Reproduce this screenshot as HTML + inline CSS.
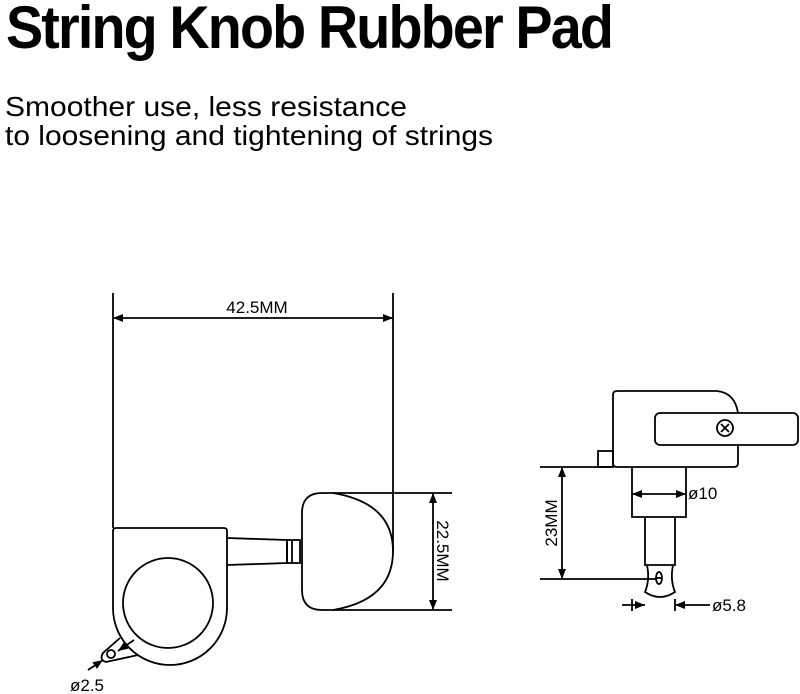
<!DOCTYPE html>
<html><head><meta charset="utf-8"><style>
html,body{margin:0;padding:0;background:#fff;width:800px;height:694px;overflow:hidden}
svg{display:block}
text{font-family:"Liberation Sans",Arial,sans-serif;fill:#000}
</style></head><body>
<svg width="800" height="694" viewBox="0 0 800 694" xmlns="http://www.w3.org/2000/svg">
<defs>
<marker id="a" viewBox="0 0 10 10" refX="10" refY="5" markerWidth="11" markerHeight="10" markerUnits="userSpaceOnUse" orient="auto-start-reverse"><path d="M0,1 L10,5 L0,9 z" fill="#000"/></marker>
</defs>
<text x="6" y="48" font-size="60" font-weight="bold" textLength="606" lengthAdjust="spacingAndGlyphs" letter-spacing="-2">String Knob Rubber Pad</text>
<text x="5" y="116" font-size="28" textLength="402" lengthAdjust="spacingAndGlyphs">Smoother use, less resistance</text>
<text x="5" y="145" font-size="28" textLength="488" lengthAdjust="spacingAndGlyphs">to loosening and tightening of strings</text>

<g fill="none" stroke="#000" stroke-width="1.8">
<line x1="113" y1="293" x2="113" y2="528"/>
<line x1="393" y1="293" x2="393" y2="551"/>
<line x1="113" y1="318" x2="393" y2="318" marker-start="url(#a)" marker-end="url(#a)"/>
<path d="M116,528 L224,528 Q227,528 227,531 L227,608 A57,57 0 0 1 113,608 L113,531 Q113,528 116,528 Z"/>
<circle cx="168" cy="603" r="45"/>
<path d="M227,538 L287,540 L287,563 L227,565"/>
<rect x="287" y="540" width="13" height="23"/>
<line x1="292" y1="540" x2="292" y2="563"/>
<path d="M333,493 L322,493 Q302,493 302,513 L302,590 Q302,610 322,610 L333,610 Q393,600 393,551 Q393,503 333,493 Z"/>
<line x1="333" y1="493" x2="452" y2="493"/>
<line x1="333" y1="610" x2="452" y2="610"/>
<line x1="433" y1="493" x2="433" y2="610" marker-start="url(#a)" marker-end="url(#a)"/>
<path d="M120,638 L103,653 Q99,660 106,662 L138,655"/>
<circle cx="111" cy="654" r="4"/>
<line x1="134" y1="640" x2="118" y2="651" marker-end="url(#a)"/>
<line x1="88" y1="670" x2="103" y2="660" marker-end="url(#a)"/>
<path d="M617,391 L717,391 Q735,393 738,413 M738,445 L738,463 Q738,467 734,467 L617,467 Q613,467 613,463 L613,395 Q613,391 617,391"/>
<rect x="655" y="413" width="143" height="32" rx="5"/>
<circle cx="725" cy="428" r="8"/>
<path d="M721,424 L729,432 M729,424 L721,432"/>
<rect x="598" y="451" width="15" height="16"/>
<line x1="540" y1="467" x2="613" y2="467"/>
<path d="M632,467 L632,517 L686,517 L686,467"/>
<path d="M645,517 L645,565 L675,565 L675,517"/>
<path d="M647,565 Q650,580 645,592 Q660,602 675,592 Q670,580 673,565"/>
<ellipse cx="659" cy="578" rx="3" ry="6"/>
<line x1="656" y1="578" x2="662" y2="578"/>
<line x1="540" y1="579" x2="657" y2="579"/>
<line x1="562" y1="467" x2="562" y2="579" marker-start="url(#a)" marker-end="url(#a)"/>
<line x1="632" y1="494" x2="686" y2="494" marker-start="url(#a)" marker-end="url(#a)"/>
<line x1="632" y1="599" x2="632" y2="611"/>
<line x1="675" y1="599" x2="675" y2="611"/>
<line x1="622" y1="605" x2="645" y2="605" marker-end="url(#a)"/>
<line x1="710" y1="605" x2="675" y2="605" marker-end="url(#a)"/>
</g>
<text x="257" y="313" font-size="17" text-anchor="middle">42.5MM</text>
<text transform="translate(437,551) rotate(90)" font-size="17" text-anchor="middle">22.5MM</text>
<text transform="translate(557,523) rotate(-90)" font-size="17" text-anchor="middle">23MM</text>
<text x="688" y="499" font-size="17">ø10</text>
<text x="712" y="611" font-size="17">ø5.8</text>
<text x="70" y="691" font-size="17">ø2.5</text>
</svg>
</body></html>
